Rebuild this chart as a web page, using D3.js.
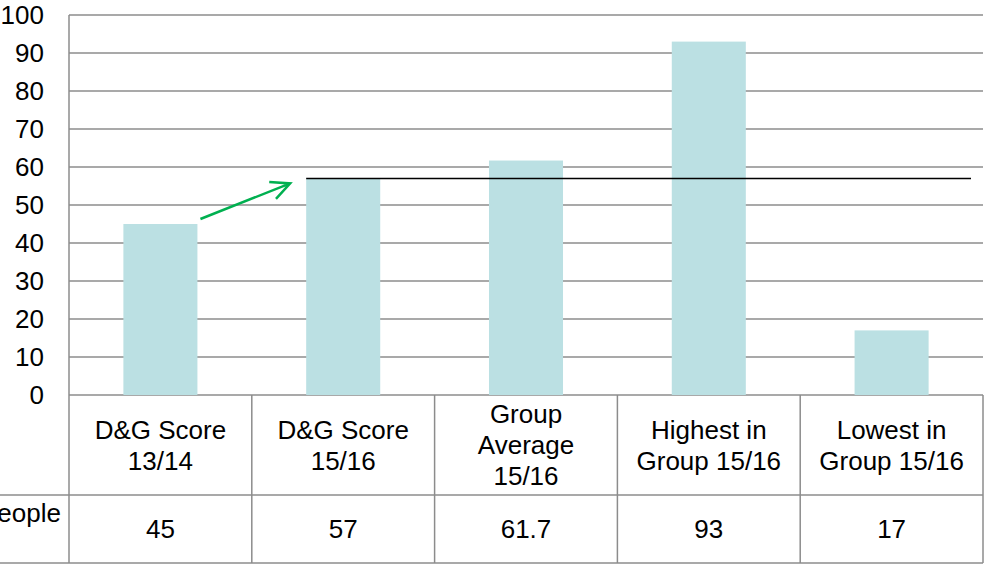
<!DOCTYPE html>
<html>
<head>
<meta charset="utf-8">
<script src="https://cdn.jsdelivr.net/npm/d3@7"></script>
<style>
  body { margin: 0; background: #fff; overflow: hidden; }
  text { font-family: "Liberation Sans", Arial, sans-serif; fill: #000; }
</style>
</head>
<body>
<div id="chart"></div>
<script>
// chart data
var categories = [
  ['D&G Score', '13/14'],
  ['D&G Score', '15/16'],
  ['Group', 'Average', '15/16'],
  ['Highest in', 'Group 15/16'],
  ['Lowest in', 'Group 15/16']
];
var values = [45, 57, 61.7, 93, 17];
var valueLabels = ['45', '57', '61.7', '93', '17'];
var seriesName = 'People';
var yTicks = [0, 10, 20, 30, 40, 50, 60, 70, 80, 90, 100];
var refValue = 57; // D&G 15/16 level line

var width = 985, height = 565;
var m = { left: 69, right: 983, top: 15, bottom: 395 };
var headerBottom = 495, tableBottom = 563;
var gridColor = '#8c8c8c';
var fontSize = '26px';

var svg = d3.select('#chart').append('svg')
  .attr('width', width)
  .attr('height', height);

var x = d3.scaleBand()
  .domain(d3.range(categories.length))
  .range([m.left, m.right]);

var y = d3.scaleLinear()
  .domain([0, 100])
  .range([m.bottom, m.top]);

// gridlines
svg.append('g').selectAll('line')
  .data(yTicks)
  .join('line')
  .attr('x1', m.left).attr('x2', m.right)
  .attr('y1', function(d) { return y(d); })
  .attr('y2', function(d) { return y(d); })
  .attr('stroke', gridColor)
  .attr('stroke-width', 1.5);

// tick labels
svg.append('g').selectAll('text')
  .data(yTicks)
  .join('text')
  .attr('x', 44)
  .attr('y', function(d) { return y(d); })
  .attr('dy', '0.36em')
  .attr('text-anchor', 'end')
  .style('font-size', fontSize)
  .text(function(d) { return d; });

// bars
var barW = x.bandwidth() * 0.405;
svg.append('g').selectAll('rect')
  .data(values)
  .join('rect')
  .attr('x', function(d, i) { return x(i) + (x.bandwidth() - barW) / 2; })
  .attr('y', function(d) { return y(d); })
  .attr('width', barW)
  .attr('height', function(d) { return y(0) - y(d); })
  .attr('fill', '#bbe0e3');

// reference line at 57
svg.append('line')
  .attr('x1', x(1) + (x.bandwidth() - barW) / 2)
  .attr('x2', m.right - 12)
  .attr('y1', y(refValue))
  .attr('y2', y(refValue))
  .attr('stroke', '#000')
  .attr('stroke-width', 1.5);

// green arrow from bar 1 towards bar 2
var green = '#00b050';
var ax1 = x(0) + (x.bandwidth() + barW) / 2 + 3, ay1 = y(values[0]) - 5;
var ax2 = x(1) + (x.bandwidth() - barW) / 2 - 16, ay2 = y(values[1]) + 5;
var ang = Math.atan2(ay2 - ay1, ax2 - ax1), hl = 21;
svg.append('path')
  .attr('d', 'M' + ax1 + ',' + ay1 + 'L' + ax2 + ',' + ay2 +
    'M' + (ax2 - hl * Math.cos(ang - 0.45)) + ',' + (ay2 - hl * Math.sin(ang - 0.45)) +
    'L' + ax2 + ',' + ay2 +
    'L' + (ax2 - hl * Math.cos(ang + 0.45)) + ',' + (ay2 - hl * Math.sin(ang + 0.45)))
  .attr('fill', 'none')
  .attr('stroke', green)
  .attr('stroke-width', 2.5);

// data table borders
var table = svg.append('g')
  .attr('stroke', gridColor)
  .attr('stroke-width', 1.5);
table.append('line').attr('x1', m.left).attr('x2', m.left).attr('y1', m.top).attr('y2', tableBottom);
table.append('line').attr('x1', 0).attr('x2', m.right).attr('y1', headerBottom).attr('y2', headerBottom);
table.append('line').attr('x1', 0).attr('x2', m.right).attr('y1', tableBottom).attr('y2', tableBottom);
table.selectAll('line.col')
  .data(d3.range(1, categories.length + 1))
  .join('line')
  .attr('class', 'col')
  .attr('x1', function(i) { return m.left + i * x.bandwidth(); })
  .attr('x2', function(i) { return m.left + i * x.bandwidth(); })
  .attr('y1', m.bottom)
  .attr('y2', tableBottom);

// category labels
var lh = 31;
svg.append('g').selectAll('text')
  .data(categories)
  .join('text')
  .attr('text-anchor', 'middle')
  .style('font-size', fontSize)
  .attr('transform', function(d, i) {
    var cy = (m.bottom + headerBottom) / 2 - (d.length - 1) * lh / 2;
    return 'translate(' + (x(i) + x.bandwidth() / 2) + ',' + cy + ')';
  })
  .each(function(d) {
    d3.select(this).selectAll('tspan')
      .data(d)
      .join('tspan')
      .attr('x', 0)
      .attr('y', function(t, j) { return j * lh; })
      .attr('dy', '0.36em')
      .text(function(t) { return t; });
  });

// value row
svg.append('g').selectAll('text')
  .data(valueLabels)
  .join('text')
  .attr('x', function(d, i) { return x(i) + x.bandwidth() / 2; })
  .attr('y', 529)
  .attr('dy', '0.36em')
  .attr('text-anchor', 'middle')
  .style('font-size', fontSize)
  .text(function(d) { return d; });

// series name (clipped at left edge)
svg.append('text')
  .attr('x', 61)
  .attr('y', 513)
  .attr('dy', '0.36em')
  .attr('text-anchor', 'end')
  .style('font-size', fontSize)
  .text(seriesName);
</script>
</body>
</html>
